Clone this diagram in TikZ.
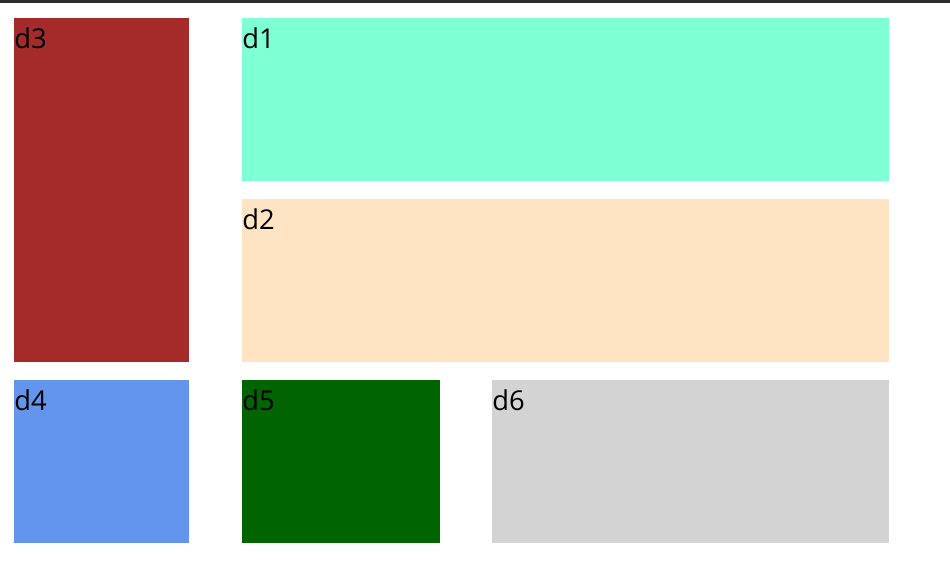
\documentclass[tikz,border=0pt]{standalone}
\usepackage{fontspec}
\setmainfont{Open Sans}
\usepackage{tikz}
\usetikzlibrary{positioning}
\usepackage{xcolor}

\definecolor{cBrown}{HTML}{A52A2A}
\definecolor{cAqua}{HTML}{7FFFD4}
\definecolor{cBisque}{HTML}{FFE4C4}
\definecolor{cCorn}{HTML}{6495ED}
\definecolor{cDkGreen}{HTML}{006400}
\definecolor{cLGray}{HTML}{D3D3D3}
\definecolor{cBar}{HTML}{2B2B2B}

\begin{document}
\begin{tikzpicture}[x=0.75pt, y=-0.75pt,
  cell/.style={draw=none, inner sep=0pt, outer sep=0pt, anchor=north west},
  tag/.style={inner sep=0pt, anchor=base west, font=\fontsize{20.5}{24}\selectfont}]
  % Constants
  \def\px{0.75pt}
  \def\baseOff{30}  % label baseline below cell top

  \useasboundingbox (0,0) rectangle (950,576);

  % window edge
  \fill[cBar] (0,0) rectangle (950,3);

  % Cells: (name/left/top/width/height/colour)
  \foreach \nm/\cx/\cy/\cw/\ch/\col in {%
    d3/14/18/175/344/cBrown,
    d1/242/18/647/163/cAqua,
    d2/242/199/647/163/cBisque,
    d4/14/380/175/163/cCorn,
    d5/242/380/198/163/cDkGreen,
    d6/492/380/397/163/cLGray%
  } {%
    \node[cell, fill=\col, minimum width=\cw*\px, minimum height=\ch*\px] (\nm) at (\cx,\cy) {};
    \node[tag] (\nm-tag) at (\cx,\cy+\baseOff) {\nm};
  }
\end{tikzpicture}
\end{document}
